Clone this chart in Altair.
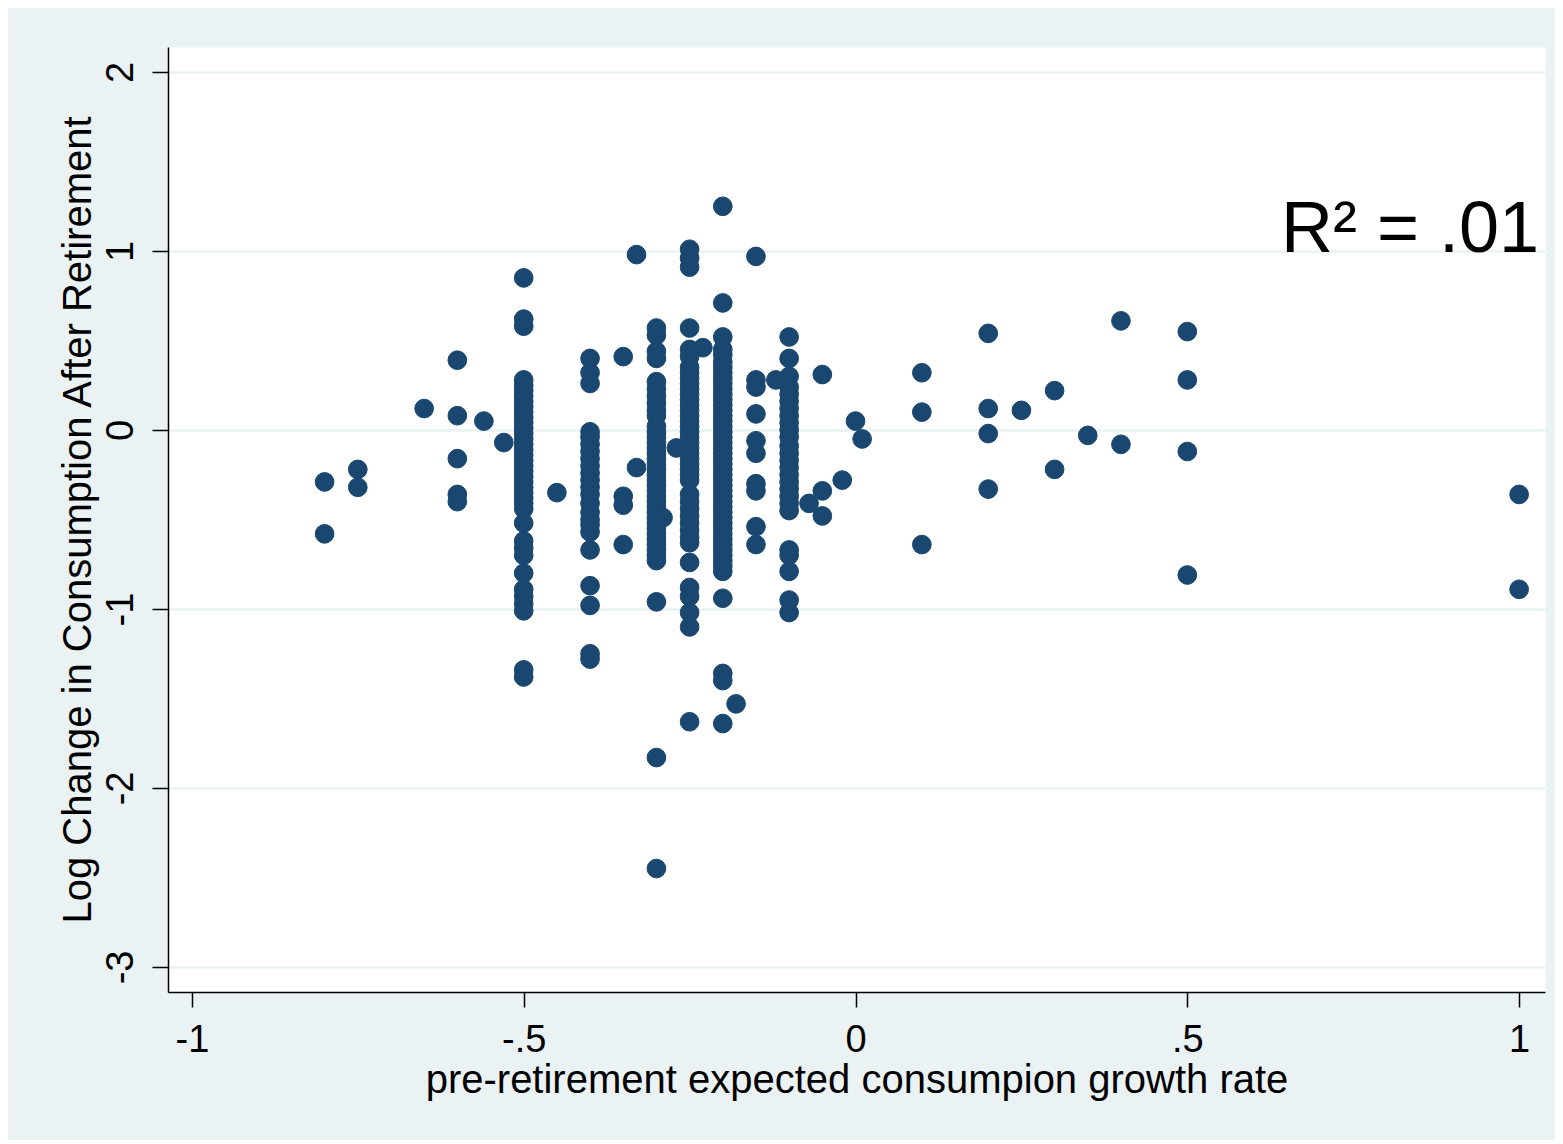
import altair as alt
import pandas as pd

# ---- data ----
col_x = [-0.5, -0.4, -0.3, -0.25, -0.2, -0.15, -0.1]

y_m50 = [0.85, 0.62, 0.58, 0.28, 0.25, 0.22, 0.19, 0.16, 0.13, 0.10, 0.07, 0.04, 0.01,
         -0.02, -0.05, -0.08, -0.11, -0.14, -0.17, -0.20, -0.23, -0.26, -0.29, -0.32,
         -0.35, -0.38, -0.41, -0.44, -0.52, -0.62, -0.66, -0.70, -0.80, -0.89, -0.93,
         -0.97, -1.01, -1.34, -1.38]
y_m40 = [0.40, 0.32, 0.26, -0.01, -0.04, -0.08, -0.12, -0.16, -0.20, -0.24, -0.28, -0.32,
         -0.36, -0.41, -0.46, -0.50, -0.53, -0.57, -0.67, -0.87, -0.98, -1.25, -1.28]
y_m30 = [0.57, 0.53, 0.44, 0.40, 0.27, 0.23, 0.19, 0.15, 0.11, 0.08, 0.02, -0.01, -0.04,
         -0.07, -0.10, -0.13, -0.16, -0.19, -0.22, -0.25, -0.28, -0.31, -0.34, -0.37,
         -0.40, -0.43, -0.46, -0.49, -0.52, -0.55, -0.58, -0.61, -0.64, -0.67, -0.70,
         -0.73, -0.96, -1.83, -2.45]
y_m25 = [1.01, 0.96, 0.91, 0.57, 0.45, 0.41, 0.35, 0.32, 0.29, 0.26, 0.23, 0.20, 0.17,
         0.14, 0.11, 0.08, 0.05, 0.02, -0.01, -0.04, -0.07, -0.10, -0.13, -0.16, -0.19,
         -0.22, -0.25, -0.28, -0.36, -0.40, -0.44, -0.48, -0.52, -0.56, -0.60, -0.63,
         -0.74, -0.88, -0.93, -1.02, -1.10, -1.63]
y_m20 = [1.25, 0.71, 0.52, 0.45, 0.42, 0.38, 0.35, 0.32, 0.29, 0.26, 0.23, 0.20, 0.17,
         0.14, 0.11, 0.08, 0.05, 0.02, -0.01, -0.04, -0.07, -0.10, -0.13, -0.16, -0.19,
         -0.22, -0.25, -0.28, -0.31, -0.34, -0.37, -0.40, -0.43, -0.46, -0.49, -0.52,
         -0.55, -0.58, -0.61, -0.64, -0.67, -0.70, -0.73, -0.76, -0.79, -0.94, -1.36,
         -1.40, -1.64]
y_m15 = [0.97, 0.28, 0.24, 0.09, -0.06, -0.13, -0.30, -0.34, -0.54, -0.64]
y_m10 = [0.52, 0.40, 0.30, 0.24, 0.20, 0.16, 0.12, 0.08, 0.04, 0.00, -0.04, -0.09, -0.13,
         -0.17, -0.21, -0.25, -0.29, -0.33, -0.37, -0.41, -0.45, -0.67, -0.70, -0.79,
         -0.95, -1.02]
col_ys = [y_m50, y_m40, y_m30, y_m25, y_m20, y_m15, y_m10]

other_x = [-0.80, -0.80, -0.75, -0.75, -0.65, -0.60, -0.60, -0.60, -0.60, -0.60, -0.56,
           -0.53, -0.45, -0.35, -0.35, -0.35, -0.35, -0.33, -0.33, -0.29, -0.27, -0.23,
           -0.18, -0.12, -0.07, -0.05, -0.05, -0.05, -0.02, 0.00, 0.01, 0.10, 0.10, 0.10,
           0.20, 0.20, 0.20, 0.20, 0.25, 0.30, 0.30, 0.35, 0.40, 0.40, 0.50, 0.50, 0.50,
           0.50, 1.00, 1.00]
other_y = [-0.29, -0.58, -0.22, -0.32, 0.12, 0.39, 0.08, -0.16, -0.36, -0.40, 0.05,
           -0.07, -0.35, 0.41, -0.37, -0.42, -0.64, 0.98, -0.21, -0.49, -0.10, 0.46,
           -1.53, 0.28, -0.41, 0.31, -0.34, -0.48, -0.28, 0.05, -0.05, 0.32, 0.10, -0.64,
           0.54, 0.12, -0.02, -0.33, 0.11, 0.22, -0.22, -0.03, 0.61, -0.08, 0.55, 0.28,
           -0.12, -0.81, -0.36, -0.89]

x_ticks = [-1, -0.5, 0, 0.5, 1]
y_ticks = [-3, -2, -1, 0, 1, 2]
x_domain = [-1.036, 1.039]
y_domain = [-3.14, 2.14]

annot_x = [1.03]
annot_y = [0.995]
annot_text = ["R\u00b2 = .01"]

x_title = "pre-retirement expected consumpion growth rate"
y_title = "Log Change in Consumption After Retirement"

# ---- build table ----
rows = []
for cx, ys in zip(col_x, col_ys):
    for yy in ys:
        rows.append({"x": cx, "y": yy})
for xx, yy in zip(other_x, other_y):
    rows.append({"x": xx, "y": yy})
df = pd.DataFrame(rows)
annot_df = pd.DataFrame({"x": annot_x, "y": annot_y, "t": annot_text})

FONT = "Liberation Sans"
label_expr = "replace('' + datum.value, '0.', '.')"

x_scale = alt.Scale(domain=x_domain, nice=False, zero=False)
y_scale = alt.Scale(domain=y_domain, nice=False, zero=False)

x_axis = alt.Axis(
    values=x_ticks, title=x_title, labelExpr=label_expr, grid=False,
    domainColor="black", domainWidth=1.5, tickColor="black", tickWidth=1.5,
    tickSize=15, labelFontSize=38, labelFont=FONT, labelColor="black",
    labelPadding=14, titleFontSize=40, titleFont=FONT, titleColor="black",
    titleFontWeight="normal", titlePadding=1,
)
y_axis = alt.Axis(
    values=y_ticks, title=y_title, labelExpr=label_expr, grid=True,
    gridColor="#EAF2F3", gridWidth=2.5, domainColor="black", domainWidth=1.5,
    tickColor="black", tickWidth=1.5, tickSize=16, labelAngle=270,
    labelAlign="center", labelBaseline="bottom", labelFontSize=38, labelFont=FONT,
    labelColor="black", labelPadding=12, titleFontSize=40, titleFont=FONT,
    titleColor="black", titleFontWeight="normal", titlePadding=4,
)

points = alt.Chart(df).mark_circle(
    size=350, color="#1A476F", opacity=1, stroke="#1A476F", strokeWidth=1
).encode(
    x=alt.X("x:Q", scale=x_scale, axis=x_axis),
    y=alt.Y("y:Q", scale=y_scale, axis=y_axis),
)

annot = alt.Chart(annot_df).mark_text(
    align="right", baseline="alphabetic", fontSize=72, font=FONT, color="black"
).encode(
    x=alt.X("x:Q", scale=x_scale, title=x_title),
    y=alt.Y("y:Q", scale=y_scale, title=y_title),
    text="t:N",
)

chart = alt.layer(points, annot).properties(
    width=1377, height=945, background="#EAF2F3",
    padding={"left": 160, "top": 39, "right": 10, "bottom": 148},
    autosize=alt.AutoSizeParams(type="none"),
).configure_view(fill="white", strokeOpacity=0)

chart.save("out.html", embed_options={"renderer": "svg", "actions": False})
